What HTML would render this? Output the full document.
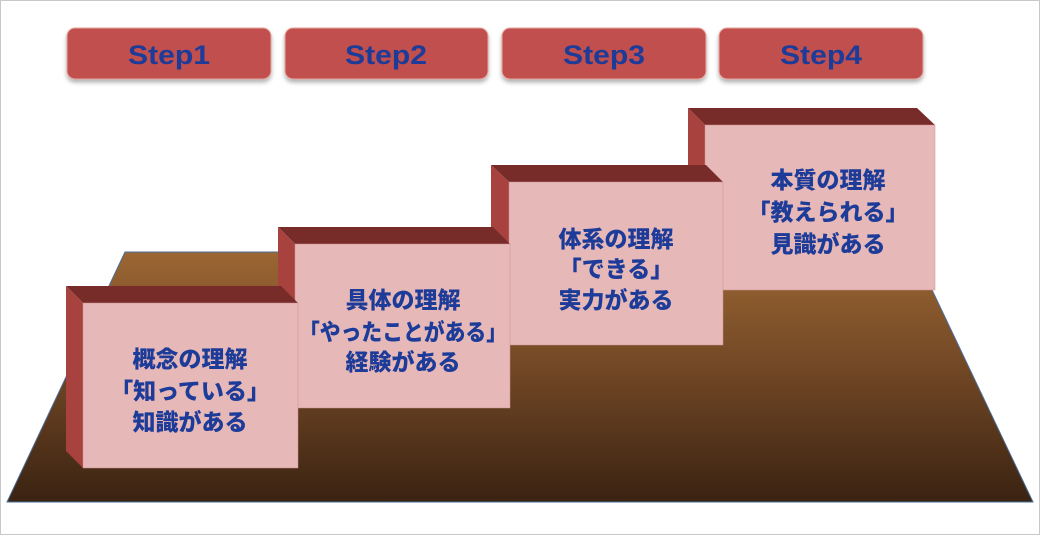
<!DOCTYPE html>
<html><head><meta charset="utf-8"><style>
html,body{margin:0;padding:0;background:#fff;}
svg{display:block;}
text{font-family:"Liberation Sans","Noto Sans CJK JP",sans-serif;font-weight:bold;fill:#1d3b98;text-anchor:middle;dominant-baseline:central;}
.j{font-family:"Noto Sans CJK JP",sans-serif;font-weight:900;}
</style></head><body>
<svg width="1040" height="535" viewBox="0 0 1040 535" xmlns="http://www.w3.org/2000/svg">
<defs>
<linearGradient id="g" x1="0" y1="0" x2="0" y2="1">
<stop offset="0" stop-color="#9b6633"/><stop offset="0.5" stop-color="#6e4524"/><stop offset="1" stop-color="#3a2312"/>
</linearGradient>
<filter id="sh" x="-10%" y="-20%" width="120%" height="160%"><feDropShadow dx="0" dy="3" stdDeviation="2" flood-color="#000" flood-opacity="0.3"/></filter>
</defs>
<rect x="0.5" y="0.5" width="1039" height="534" fill="#fff" stroke="#c8c8c8"/>
<polygon points="125,252 914,252 1033,502 7,502" fill="url(#g)" stroke="#4a6e9a" stroke-width="1"/>

<g filter="url(#sh)">
<rect x="67" y="28" width="204" height="51" rx="8" fill="#c0504d" stroke="#e8a8a0"/>
<rect x="285" y="28" width="203" height="51" rx="8" fill="#c0504d" stroke="#e8a8a0"/>
<rect x="502" y="28" width="204" height="51" rx="8" fill="#c0504d" stroke="#e8a8a0"/>
<rect x="719" y="28" width="204" height="51" rx="8" fill="#c0504d" stroke="#e8a8a0"/>
</g>
<g font-size="27" transform="translate(0,0)">
<text x="169" y="55" textLength="82" lengthAdjust="spacingAndGlyphs">Step1</text>
<text x="386" y="55" textLength="82" lengthAdjust="spacingAndGlyphs">Step2</text>
<text x="604" y="55" textLength="82" lengthAdjust="spacingAndGlyphs">Step3</text>
<text x="821" y="55" textLength="82" lengthAdjust="spacingAndGlyphs">Step4</text>
</g>

<polygon points="688,108 917,108 935,125 705,125" fill="#772c2a"/>
<polygon points="688,108 705,125 705,290 688,273" fill="#a8423e"/>
<rect x="705" y="125" width="230" height="165" fill="#e6b8b7" stroke="#d09090" stroke-width="0.5"/>
<polygon points="491,165 706,165 723,182 509,182" fill="#772c2a"/>
<polygon points="491,165 509,182 509,345 491,328" fill="#a8423e"/>
<rect x="509" y="182" width="214" height="163" fill="#e6b8b7" stroke="#d09090" stroke-width="0.5"/>
<polygon points="278,227 493,227 510,244 295,244" fill="#772c2a"/>
<polygon points="278,227 295,244 295,408 278,391" fill="#a8423e"/>
<rect x="295" y="244" width="215" height="164" fill="#e6b8b7" stroke="#d09090" stroke-width="0.5"/>
<polygon points="66,286 281,286 298,303 83,303" fill="#772c2a"/>
<polygon points="66,286 83,303 83,468 66,451" fill="#a8423e"/>
<rect x="83" y="303" width="215" height="165" fill="#e6b8b7" stroke="#d09090" stroke-width="0.5"/>

<g font-size="23" class="j">
<text class="j" x="190" y="357">概念の理解</text>
<text class="j" x="190" y="389">「知っている」</text>
<text class="j" x="190" y="420">知識がある</text>
<text class="j" x="403" y="298">具体の理解</text>
<text class="j" x="403" y="330" textLength="208" lengthAdjust="spacingAndGlyphs">「やったことがある」</text>
<text class="j" x="403" y="360">経験がある</text>
<text class="j" x="616" y="237">体系の理解</text>
<text class="j" x="616" y="267">「できる」</text>
<text class="j" x="616" y="298">実力がある</text>
<text class="j" x="828" y="178">本質の理解</text>
<text class="j" x="828" y="210">「教えられる」</text>
<text class="j" x="828" y="242">見識がある</text>
</g>
</svg>
</body></html>
